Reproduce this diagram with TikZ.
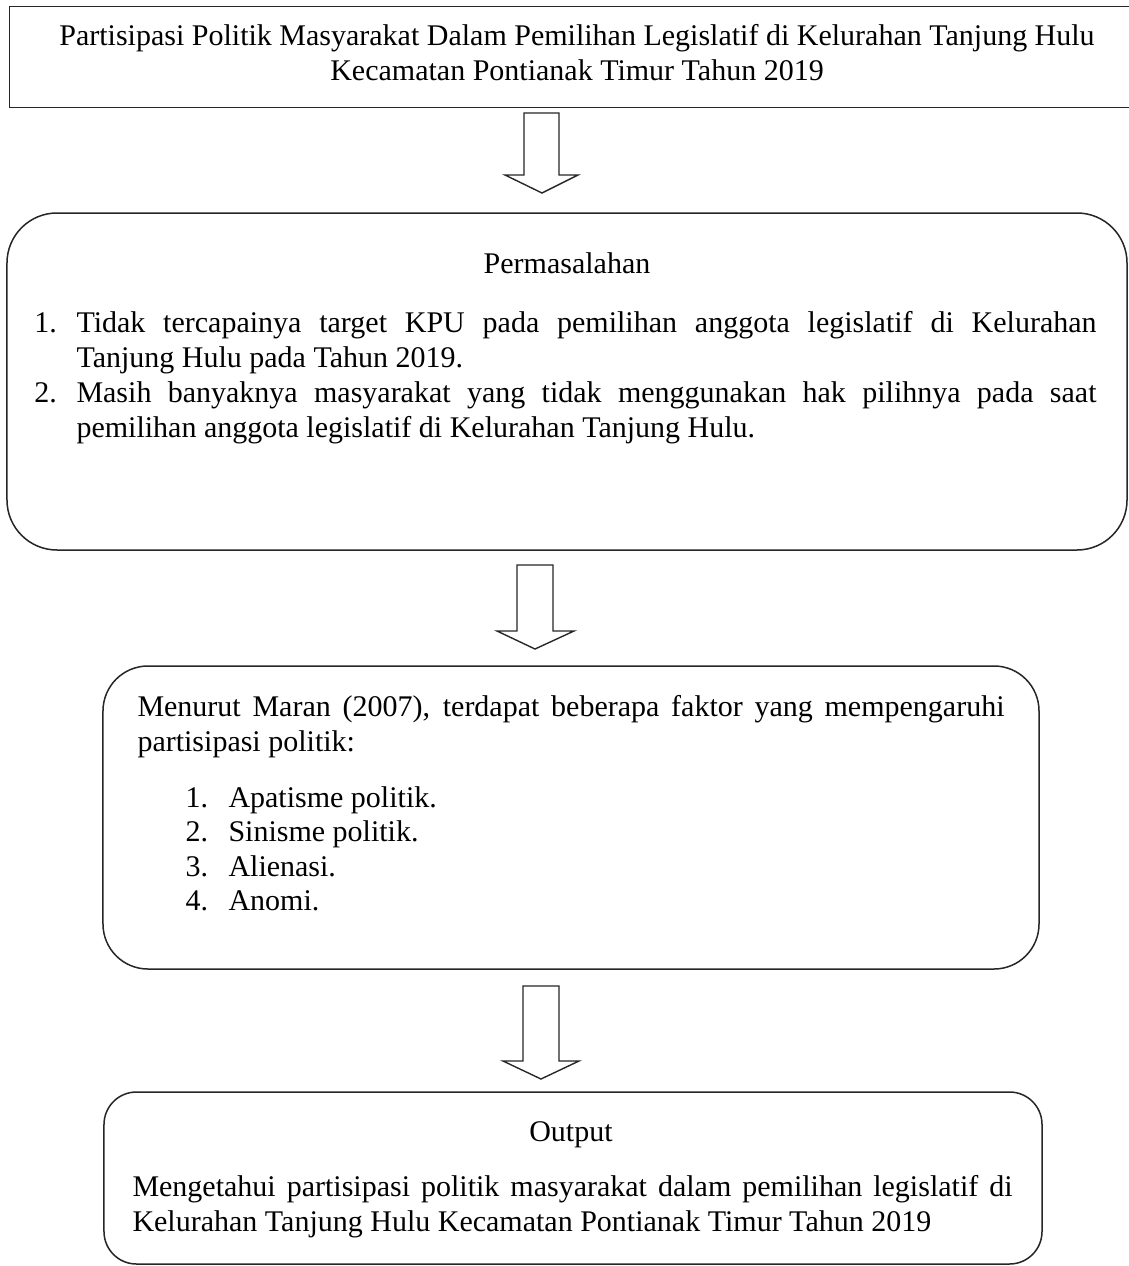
\documentclass[tikz,border=0pt]{standalone}
\usepackage{fontspec}
\setmainfont{Liberation Serif}
\begin{document}
\begin{tikzpicture}[x=0.4pt,y=-0.4pt,
  font=\fontsize{12}{14}\selectfont,
  frame/.style={draw=black!85, line width=0.6pt},
  blockarrow/.style={draw=black!85, line width=0.55pt, fill=white, line join=miter},
  txt/.style={inner sep=0pt, anchor=base west},
  ctxt/.style={inner sep=0pt, anchor=base}]
\useasboundingbox (0,0) rectangle (1128,1266);
\fill[white] (0,0) rectangle (1128,1266);

% Boxes
\node[inner sep=0pt, minimum width=452pt, minimum height=40pt] (b1) at (575,57) {};
\draw[frame] (b1.north east) -- (b1.north west) -- (b1.south west) -- (b1.south east);
\node[frame, rounded corners=20pt, inner sep=0pt, minimum width=448pt, minimum height=134.8pt] (b2) at (567,381.5) {};
\node[frame, rounded corners=18pt, inner sep=0pt, minimum width=374.4pt, minimum height=121.2pt] (b3) at (571,817.5) {};
\node[frame, rounded corners=13pt, inner sep=0pt, minimum width=375.2pt, minimum height=68.8pt] (b4) at (573,1178) {};

% Block arrows
\draw[blockarrow] (524,113) -- (559,113) -- (559,175) -- (578,175) -- (542,193) -- (505,175) -- (524,175) -- cycle;
\draw[blockarrow] (517,565) -- (553,565) -- (553,631) -- (574,631) -- (535,649) -- (497,631) -- (517,631) -- cycle;
\draw[blockarrow] (523,986) -- (559,986) -- (559,1061) -- (579,1061) -- (541,1079) -- (503,1061) -- (523,1061) -- cycle;

% Title
\node[ctxt] (t1) at (577,45) {Partisipasi Politik Masyarakat Dalam Pemilihan Legislatif di Kelurahan Tanjung Hulu};
\node[ctxt] (t2) at (577,80) {Kecamatan Pontianak Timur Tahun 2019};

% Permasalahan
\node[ctxt] (p0) at (567,273) {Permasalahan};
\node[txt] (pn1) at (34,332) {1.};
\node[txt] (p1a) at (76,332) {\makebox[408pt][s]{Tidak tercapainya target KPU pada pemilihan anggota legislatif di Kelurahan}};
\node[txt] (p1b) at (76,367) {Tanjung Hulu pada Tahun 2019.};
\node[txt] (pn2) at (34,402) {2.};
\node[txt] (p2a) at (76,402) {\makebox[408pt][s]{Masih banyaknya masyarakat yang tidak menggunakan hak pilihnya pada saat}};
\node[txt] (p2b) at (76,437) {pemilihan anggota legislatif di Kelurahan Tanjung Hulu.};

% Menurut Maran
\node[txt] (m1) at (137,716) {\makebox[346.8pt][s]{Menurut Maran (2007), terdapat beberapa faktor yang mempengaruhi}};
\node[txt] (m2) at (137,751) {partisipasi politik:};
\node[txt] (mn1) at (185,807) {1.};
\node[txt] (ml1) at (228,807) {Apatisme politik.};
\node[txt] (mn2) at (185,841) {2.};
\node[txt] (ml2) at (228,841) {Sinisme politik.};
\node[txt] (mn3) at (185,876) {3.};
\node[txt] (ml3) at (228,876) {Alienasi.};
\node[txt] (mn4) at (185,910) {4.};
\node[txt] (ml4) at (228,910) {Anomi.};

% Output
\node[ctxt] (o0) at (571,1141) {Output};
\node[txt] (o1) at (132,1196) {\makebox[352pt][s]{Mengetahui partisipasi politik masyarakat dalam pemilihan legislatif di}};
\node[txt] (o2) at (132,1231) {Kelurahan Tanjung Hulu Kecamatan Pontianak Timur Tahun 2019};
\end{tikzpicture}
\end{document}
